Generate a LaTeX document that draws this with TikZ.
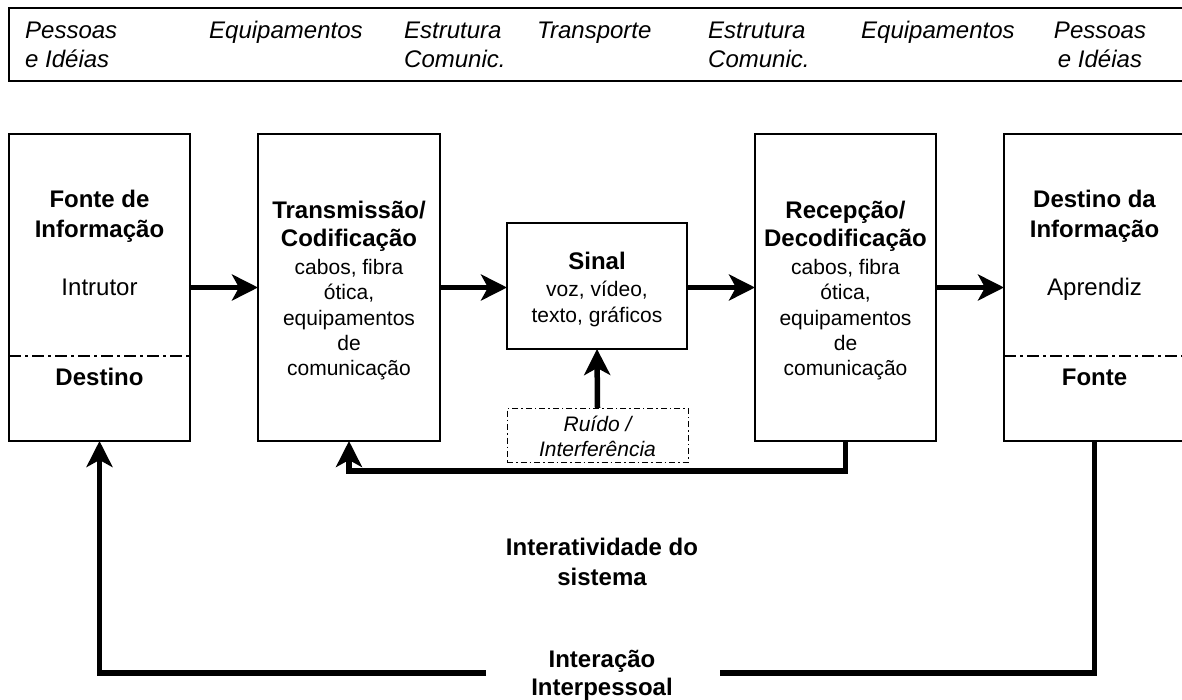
\documentclass[tikz,border=0pt]{standalone}
\usepackage{fontspec}
\setmainfont{Liberation Sans}
\usetikzlibrary{arrows.meta}
\begin{document}
\begin{tikzpicture}[x=1pt,y=-1pt,
  box/.style={draw,line width=1.3pt,inner sep=0pt,outer sep=0pt},
  noisebox/.style={draw,line width=0.9pt,inner sep=0pt,outer sep=0pt,dash pattern=on 6pt off 3pt on 1.5pt off 3pt},
  hd/.style={font=\itshape\fontsize{24}{28}\selectfont,anchor=base west,inner sep=0pt},
  hdc/.style={font=\itshape\fontsize{24}{28}\selectfont,anchor=base,inner sep=0pt},
  ttl/.style={font=\bfseries\fontsize{24}{28}\selectfont,anchor=base,inner sep=0pt},
  big/.style={font=\fontsize{24}{28}\selectfont,anchor=base,inner sep=0pt},
  det/.style={font=\fontsize{21}{25}\selectfont,anchor=base,inner sep=0pt},
  noi/.style={font=\itshape\fontsize{21}{25}\selectfont,anchor=base,inner sep=0pt},
  flow/.style={line width=5.5pt,-{Stealth[length=26pt,width=26pt,inset=7pt]}},
  fb/.style={line width=5.5pt},
  divl/.style={line width=1.2pt,dash pattern=on 12pt off 4pt on 3pt off 4pt}]
\clip (0,0) rectangle (1182,700);
\fill[white] (0,0) rectangle (1182,700);

% header
\node[box,minimum width=1186pt,minimum height=73pt] (hdr) at (602,44.5) {};
\node[hd] (h1a) at (25,39) {Pessoas};
\node[hd] (h1b) at (25,68) {e Idéias};
\node[hd] (h2) at (209,39) {Equipamentos};
\node[hd] (h3a) at (404,39) {Estrutura};
\node[hd] (h3b) at (404,68) {Comunic.};
\node[hd] (h4) at (537,39) {Transporte};
\node[hd] (h5a) at (708,39) {Estrutura};
\node[hd] (h5b) at (708,68) {Comunic.};
\node[hd] (h6) at (861,39) {Equipamentos};
\node[hdc] (h7a) at (1100,39) {Pessoas};
\node[hdc] (h7b) at (1100,68) {e Idéias};

% boxes
\node[box,minimum width=181pt,minimum height=307pt] (b1) at (99.5,287.5) {};
\node[box,minimum width=182pt,minimum height=307pt] (b2) at (349,287.5) {};
\node[box,minimum width=180pt,minimum height=126pt] (sig) at (597,286) {};
\node[noisebox,minimum width=181pt,minimum height=54pt] (noise) at (597.5,435) {};
\node[box,minimum width=181pt,minimum height=307pt] (b4) at (845.5,287.5) {};
\node[box,minimum width=181pt,minimum height=307pt] (b5) at (1094.5,287.5) {};

% dividers
\coordinate (dv) at (0,356);
\draw[divl] (b1.west |- dv) -- (b1.east |- dv);
\draw[divl] (b5.west |- dv) -- (b5.east |- dv);

% box 1 texts
\node[ttl] (t1a) at (99.5,208) {Fonte de};
\node[ttl] (t1b) at (99.5,238) {Informação};
\node[big] (t1c) at (99.5,296) {Intrutor};
\node[ttl] (t1d) at (99.5,385) {Destino};

% box 2 texts
\node[ttl] (t2a) at (349,219) {Transmissão/};
\node[ttl] (t2b) at (349,247) {Codificação};
\node[det] (t2c) at (349,275) {cabos, fibra};
\node[det] (t2d) at (349,300) {ótica,};
\node[det] (t2e) at (349,325) {equipamentos};
\node[det] (t2f) at (349,350) {de};
\node[det] (t2g) at (349,375) {comunicação};

% signal texts
\node[ttl] (t3a) at (597,270) {Sinal};
\node[det] (t3b) at (597,297) {voz, vídeo,};
\node[det] (t3c) at (597,322) {texto, gráficos};

% noise texts
\node[noi] (tna) at (597.5,431) {Ruído /};
\node[noi] (tnb) at (597.5,456) {Interferência};

% box 4 texts
\node[ttl] (t4a) at (845.5,219) {Recepção/};
\node[ttl] (t4b) at (845.5,247) {Decodificação};
\node[det] (t4c) at (845.5,275) {cabos, fibra};
\node[det] (t4d) at (845.5,300) {ótica,};
\node[det] (t4e) at (845.5,325) {equipamentos};
\node[det] (t4f) at (845.5,350) {de};
\node[det] (t4g) at (845.5,375) {comunicação};

% box 5 texts
\node[ttl] (t5a) at (1094.5,208) {Destino da};
\node[ttl] (t5b) at (1094.5,238) {Informação};
\node[big] (t5c) at (1094.5,296) {Aprendiz};
\node[ttl] (t5d) at (1094.5,385) {Fonte};

% bottom labels
\node[ttl] (l1a) at (602,555) {Interatividade do};
\node[ttl] (l1b) at (602,585) {sistema};
\node[ttl] (l2a) at (602,667) {Interação};
\node[ttl] (l2b) at (602,695) {Interpessoal};

% flow arrows
\draw[flow] (b1.east) -- (b2.west);
\draw[flow] (b2.east) -- (b2.east -| sig.west);
\draw[flow] (b2.east -| sig.east) -- (b4.west);
\draw[flow] (b4.east) -- (b5.west);
\draw[flow] (noise.north) -- (sig.south);

% feedback loops
\draw[flow] (b4.south) -- ++(0,30) -| (b2.south);
\coordinate (gR) at (720,673);
\coordinate (gL) at (486,673);
\draw[fb] (b5.south) |- (gR);
\draw[flow] (gL) -| (b1.south);
\end{tikzpicture}
\end{document}
